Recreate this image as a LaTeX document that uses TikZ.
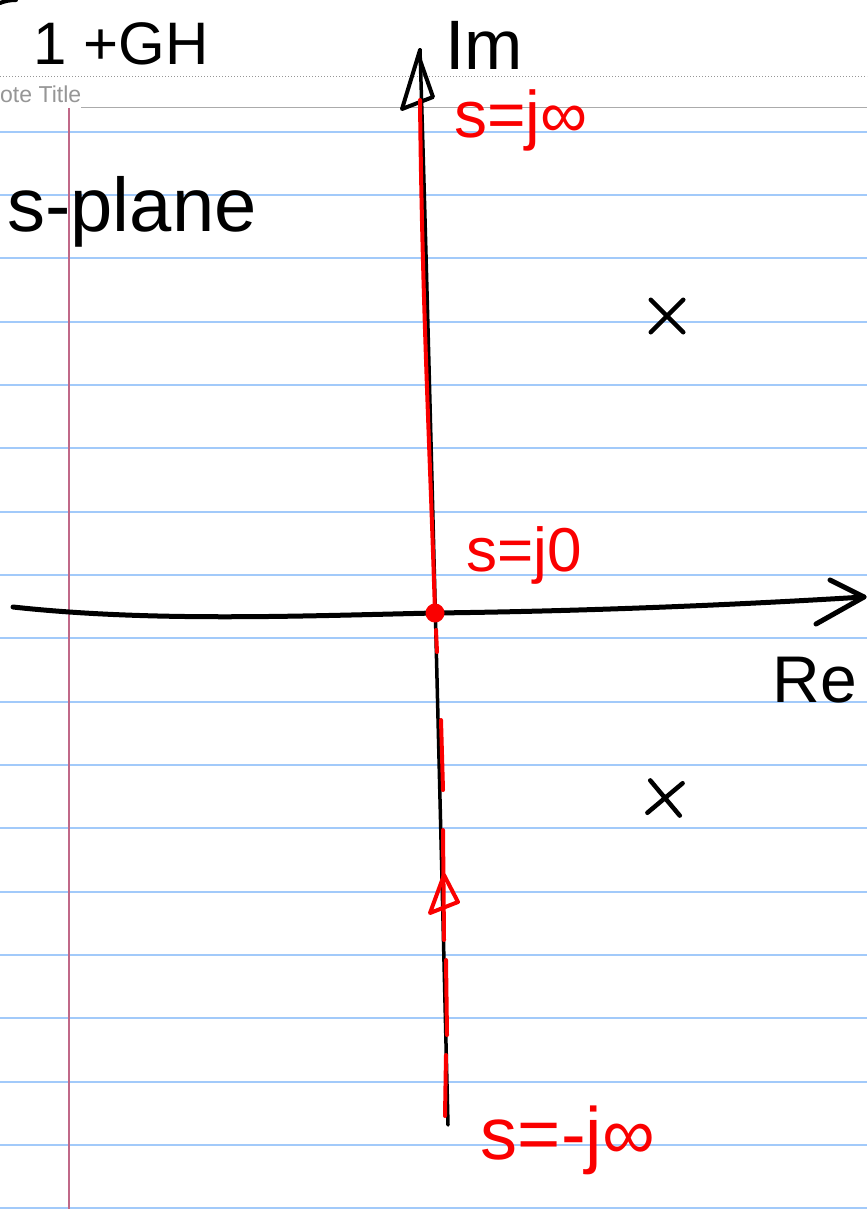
\documentclass[tikz,border=0pt]{standalone}
\usepackage{fontspec}
\setmainfont{Liberation Sans}
\usetikzlibrary{shapes.misc}
\definecolor{ruleblue}{RGB}{162,202,250}
\definecolor{marginred}{RGB}{192,104,136}
\definecolor{titlegray}{RGB}{150,150,150}
\definecolor{inkred}{RGB}{250,0,0}
\tikzset{
  ink/.style={line width=5pt, line cap=round, line join=round, black},
  redink/.style={line width=4pt, line cap=round, line join=round, inkred},
  blacktext/.style={text=black, inner sep=0pt},
  redtext/.style={text=inkred, inner sep=0pt},
  pole/.style={draw=black, cross out, line width=4.5pt, minimum size=28pt, inner sep=0pt, line cap=round},
  ruleline/.style={ruleblue, line width=2pt},
}
\begin{document}
\begin{tikzpicture}[x=1pt,y=-1pt]
\useasboundingbox (0,0) rectangle (867,1209);
\fill[white] (0,0) rectangle (867,1209);
% ruled paper
\foreach \k in {0,...,17} {
  \draw[ruleline] (0,{131.7+63.33*\k}) -- (867,{131.7+63.33*\k});
}
\draw[titlegray, line width=1pt, dotted] (0,76.7) -- (867,76.7);
\draw[titlegray!80, line width=1.6pt] (81,107.7) -- (867,107.7);
\draw[marginred, line width=2pt] (69,108) -- (69,1209);
\node[anchor=west, text=titlegray, font=\fontsize{23}{23}\selectfont, inner sep=0pt] (title) at (0,94) {ote Title};
% top-left stroke
\draw[ink, line width=4pt] (0,3) .. controls (5,1) and (10,0) .. (16,0);
% coordinates
\coordinate (imtop) at (420,50);
\coordinate (imbot) at (448,1125);
\coordinate (reL) at (13,607);
\coordinate (reR) at (864,597);
\coordinate (origin) at (435,613);
% real axis
\draw[ink] (reL) .. controls (150,622) and (300,616) .. (origin) .. controls (600,611) and (750,604) .. (reR);
\draw[ink] (830,580) -- (reR) -- (816,624);
% imaginary axis
\draw[ink, line width=3.5pt] (imbot) .. controls (440,800) and (428,300) .. (imtop);
\draw[ink, line width=4pt] (imtop) -- (402,109) -- (433,97) -- (420,60);
% red contour
\draw[redink] (420,100) .. controls (422,300) and (430,450) .. (origin);
\fill[inkred] (origin) circle (9.5);
\draw[redink] (436,630) -- (437,652);
\draw[redink] (441,720) -- (443,790);
\draw[redink] (443,830) -- (444,940);
\draw[redink] (446,960) -- (447,1035);
\draw[redink] (446,1055) -- (445,1116);
\draw[redink] (444,875) -- (430,913) -- (458,902) -- (444,875);
% poles
\node[pole] (p1) at (667,316) {};
\node[pole, rotate=-5] (p2) at (665,798) {};
% labels
\node[blacktext, font=\fontsize{60}{60}\selectfont] (gh) at (121,44) {1 +GH};
\node[blacktext, font=\fontsize{70}{70}\selectfont] (im) at (484,45) {Im};
\node[redtext, font=\fontsize{66}{66}\selectfont] (sjinf) at (521,120) {s=j∞};
\node[blacktext, font=\fontsize{76}{76}\selectfont] (splane) at (132,212) {s-plane};
\node[redtext, font=\fontsize{62}{62}\selectfont] (sj0) at (524,555) {s=j0};
\node[blacktext, font=\fontsize{66}{66}\selectfont] (re) at (815,680) {Re};
\node[redtext, font=\fontsize{74}{74}\selectfont] (smjinf) at (568,1140) {s=-j∞};
\end{tikzpicture}
\end{document}
